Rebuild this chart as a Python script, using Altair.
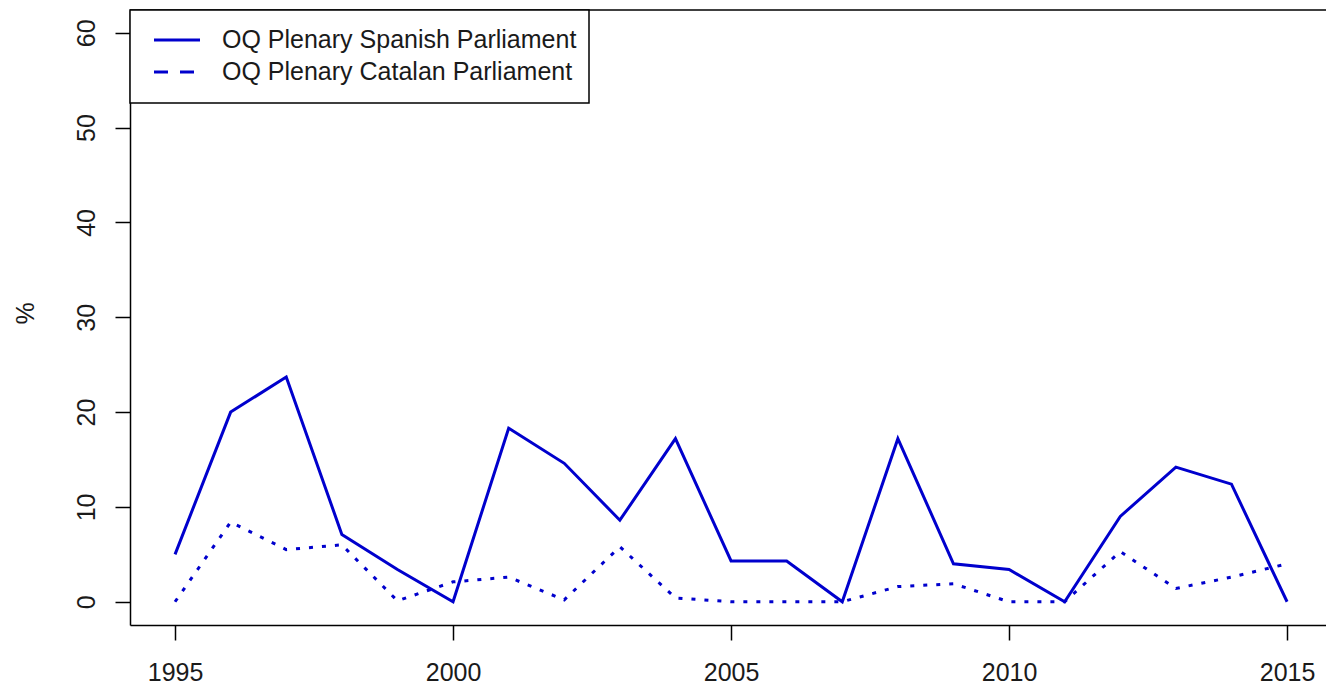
import altair as alt
import pandas as pd

# Share of oral questions per year (%)
years = [1995, 1996, 1997, 1998, 1999, 2000, 2001, 2002, 2003, 2004, 2005,
         2006, 2007, 2008, 2009, 2010, 2011, 2012, 2013, 2014, 2015]
spanish = [5.0, 20.0, 23.7, 7.1, 3.4, 0.0, 18.3, 14.6, 8.6, 17.2, 4.3,
           4.3, 0.0, 17.2, 4.0, 3.4, 0.0, 9.0, 14.2, 12.4, 0.0]
catalan = [0.0, 8.4, 5.5, 6.0, 0.1, 2.1, 2.6, 0.2, 5.8, 0.4, 0.0,
           0.0, 0.0, 1.6, 1.9, 0.0, 0.0, 5.3, 1.4, 2.6, 4.0]
series_names = ["OQ Plenary Spanish Parliament", "OQ Plenary Catalan Parliament"]
x_ticks = [1995, 2000, 2005, 2010, 2015]
y_ticks = [0, 10, 20, 30, 40, 50, 60]

BLUE = "#0000CD"
FONT = "Liberation Sans"
W, H = 1196, 615

df_sp = pd.DataFrame({"year": years, "pct": spanish})
df_ca = pd.DataFrame({"year": years, "pct": catalan})

x_enc = alt.X(
    "year:Q",
    scale=alt.Scale(domain=[1994.19, 2015.70], nice=False, zero=False),
    axis=alt.Axis(values=x_ticks, format="d", title=None, labelPadding=20),
)
y_enc = alt.Y(
    "pct:Q",
    scale=alt.Scale(domain=[-2.45, 62.4], nice=False, zero=False),
    axis=alt.Axis(values=y_ticks, title="%", labelAngle=270, labelAlign="center",
                  labelBaseline="alphabetic", labelPadding=21,
                  titleAngle=270, titleX=-97, titleY=303, titleAlign="center",
                  titleBaseline="alphabetic"),
)

line_sp = alt.Chart(df_sp).mark_line(color=BLUE, strokeWidth=3, clip=True).encode(
    x=x_enc, y=y_enc
)
line_ca = alt.Chart(df_ca).mark_line(
    color=BLUE, strokeWidth=3, strokeDash=[4, 9], clip=True
).encode(x="year:Q", y="pct:Q")

# top edge of the plot box
top_edge = alt.Chart(pd.DataFrame({"k": [0]})).mark_rule(
    color="black", strokeWidth=1.5
).encode(x=alt.value(0), x2=alt.value(W), y=alt.value(0))

# legend box
one = pd.DataFrame({"k": [0]})
leg_box = alt.Chart(one).mark_rect(
    fill="white", stroke="black", strokeWidth=1.5
).encode(x=alt.value(0), x2=alt.value(459), y=alt.value(0), y2=alt.value(93))
leg_line_sp = alt.Chart(one).mark_rule(color=BLUE, strokeWidth=3).encode(
    x=alt.value(24), x2=alt.value(70), y=alt.value(30)
)
leg_line_ca = alt.Chart(one).mark_rule(
    color=BLUE, strokeWidth=3, strokeDash=[14, 12]
).encode(x=alt.value(24), x2=alt.value(70), y=alt.value(62))
leg_txt_sp = alt.Chart(pd.DataFrame({"name": [series_names[0]]})).mark_text(
    align="left", baseline="middle", font=FONT, fontSize=25, color="#1a1a1a"
).encode(x=alt.value(92), y=alt.value(30), text="name:N")
leg_txt_ca = alt.Chart(pd.DataFrame({"name": [series_names[1]]})).mark_text(
    align="left", baseline="middle", font=FONT, fontSize=25, color="#1a1a1a"
).encode(x=alt.value(92), y=alt.value(62), text="name:N")

chart = alt.layer(
    line_sp, line_ca, top_edge, leg_box, leg_line_sp, leg_line_ca, leg_txt_sp, leg_txt_ca
).properties(
    width=W, height=H,
    autosize=alt.AutoSizeParams(type="none"),
    padding={"left": 130, "top": 10, "right": 0, "bottom": 61},
    background="white",
).configure_view(stroke=None).configure_axis(
    grid=False,
    domainColor="black", domainWidth=1.5,
    tickColor="black", tickWidth=1.5, tickSize=15,
    labelFont=FONT, labelFontSize=25, labelColor="#1a1a1a",
    titleFont=FONT, titleFontSize=25, titleColor="#1a1a1a", titleFontWeight="normal",
    labelFlush=False, labelOverlap=False,
)

chart.save("out.html", embed_options={"renderer": "svg", "actions": False})
